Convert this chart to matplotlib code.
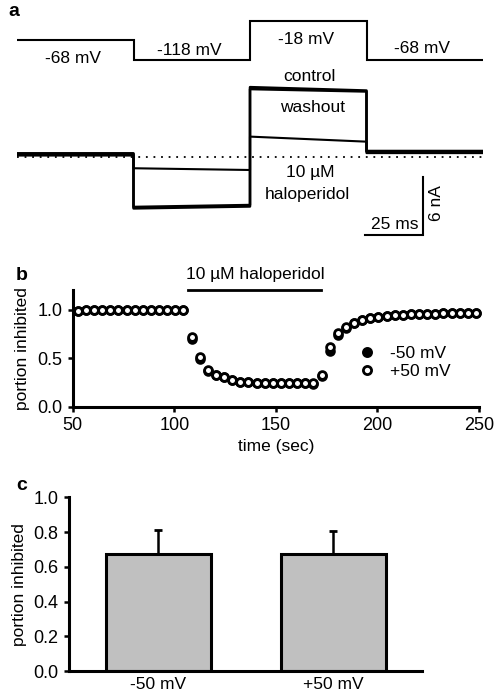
import matplotlib.pyplot as plt

plt.rcParams["font.family"] = ["Liberation Sans", "DejaVu Sans"]

W, H = 495, 695

# panel a: voltage protocol (ms, mV) and current levels (nA) at start / end of each step
step_edges = [0, 50, 100, 150, 200]
command_mv = [-68, -118, -18, -118]
command_labels = ["-68 mV", "-118 mV", "-18 mV", "-68 mV"]
control_start = [0.38, -5.15, 7.20, 0.62]
control_end = [0.38, -4.95, 6.85, 0.62]
washout_start = [0.30, -5.30, 7.00, 0.55]
washout_end = [0.30, -5.10, 6.75, 0.55]
halo_start = [0.15, -1.16, 2.10, 0.40]
halo_end = [0.15, -1.34, 1.58, 0.40]

# panel b: time course of block
time_sec = [52.5, 56.5, 60.5, 64.5, 68.5, 72.5, 76.5, 80.5, 84.5, 88.5,
            92.5, 96.5, 100.5, 104.5, 108.5, 112.5, 116.5, 120.5, 124.5, 128.5,
            132.5, 136.5, 140.5, 144.5, 148.5, 152.5, 156.5, 160.5, 164.5, 168.5,
            172.5, 176.5, 180.5, 184.5, 188.5, 192.5, 196.5, 200.5, 204.5, 208.5,
            212.5, 216.5, 220.5, 224.5, 228.5, 232.5, 236.5, 240.5, 244.5, 248.5]
plus50 = [0.98, 0.99, 0.99, 0.99, 0.99, 0.99, 0.99, 0.99, 0.99, 0.99,
          0.99, 0.99, 0.99, 0.99, 0.72, 0.51, 0.38, 0.33, 0.31, 0.28,
          0.26, 0.26, 0.25, 0.25, 0.245, 0.245, 0.25, 0.245, 0.245, 0.245,
          0.33, 0.62, 0.76, 0.82, 0.86, 0.89, 0.91, 0.92, 0.93, 0.94,
          0.94, 0.95, 0.95, 0.95, 0.95, 0.96, 0.96, 0.96, 0.96, 0.96]
minus50 = [0.98, 0.99, 0.99, 0.99, 0.99, 0.99, 0.99, 0.99, 0.99, 0.99,
           0.99, 0.99, 0.99, 0.99, 0.70, 0.49, 0.37, 0.33, 0.31, 0.28,
           0.26, 0.26, 0.25, 0.25, 0.245, 0.245, 0.25, 0.245, 0.245, 0.24,
           0.32, 0.57, 0.74, 0.81, 0.86, 0.89, 0.91, 0.92, 0.93, 0.94,
           0.94, 0.95, 0.95, 0.95, 0.95, 0.96, 0.96, 0.96, 0.96, 0.96]
drug_on, drug_off = 107, 172.3

# panel c: mean block with SEM
bar_labels = ["-50 mV", "+50 mV"]
bar_means = [0.672, 0.672]
bar_sem = [0.138, 0.134]

FS = 12.5
TICK_FS = 13


def px_axes(fig, left, top, right, bottom):
    return fig.add_axes([left / W, 1 - bottom / H, (right - left) / W, (bottom - top) / H])


def steps(edges, starts, ends):
    xs, ys = [], []
    for i in range(len(starts)):
        xs += [edges[i], edges[i + 1]]
        ys += [starts[i], ends[i]]
    return xs, ys


fig = plt.figure(figsize=(W / 100, H / 100), dpi=100)

# ---- panel a: command voltage
axv = px_axes(fig, 17, 5, 483, 75)
vx, vy = steps(step_edges, command_mv, command_mv)
axv.plot(vx, vy, color="black", lw=1.5, solid_joinstyle="miter")
axv.set_xlim(0, 200)
axv.set_ylim(-156.5, 23)
axv.axis("off")
label_y = [-113.6, -92.4, -64.9, -89.8]
for i, lab in enumerate(command_labels):
    xc = (step_edges[i] + step_edges[i + 1]) / 2 - 1
    axv.text(xc, label_y[i], lab, ha="center", va="center", fontsize=FS)

# ---- panel a: currents
axi = px_axes(fig, 17, 75, 483, 245)
axi.axhline(0, color="black", lw=1.3, ls=(0, (1, 3.2)))
for st, en, lw in [(control_start, control_end, 1.8),
                   (washout_start, washout_end, 1.8),
                   (halo_start, halo_end, 1.5)]:
    x, y = steps(step_edges, st, en)
    axi.plot(x, y, color="black", lw=lw)
axi.set_xlim(0, 200)
axi.set_ylim(-9.07, 8.45)
axi.axis("off")
axi.text(125.3, 8.25, "control", ha="center", va="center", fontsize=FS)
axi.text(127, 5.15, "washout", ha="center", va="center", fontsize=FS)
axi.text(125.8, -1.55, "10 µM", ha="center", va="center", fontsize=FS)
axi.text(124.8, -3.9, "haloperidol", ha="center", va="center", fontsize=FS)
# scale bar: 25 ms x 6 nA
sb_x, sb_y = 174.4, -8.04
axi.plot([sb_x - 25, sb_x, sb_x], [sb_y, sb_y, sb_y + 6], color="black", lw=1.5,
         clip_on=False, solid_joinstyle="miter")
axi.text(sb_x - 12.3, sb_y + 1.05, "25 ms", ha="center", va="center", fontsize=FS)
axi.text(sb_x + 5.8, sb_y + 3.3, "6 nA", ha="center", va="center", fontsize=FS, rotation=90)


def style_axes(ax):
    for s in ["top", "right"]:
        ax.spines[s].set_visible(False)
    for s in ["left", "bottom"]:
        ax.spines[s].set_linewidth(2.2)
    ax.tick_params(direction="out", length=3.5, width=1.8, labelsize=TICK_FS, pad=4)


# ---- panel b
axb = px_axes(fig, 72.7, 290, 479, 407)
style_axes(axb)
mk = dict(ls="none", marker="o", ms=5.6, mew=2.0, mec="black")
axb.plot(time_sec, minus50, mfc="black", clip_on=False, label="-50 mV", **mk)
axb.plot(time_sec, plus50, mfc="white", clip_on=False, label="+50 mV", **mk)
axb.set_xlim(50, 250)
axb.set_ylim(0, 1.2)
axb.set_xticks([50, 100, 150, 200, 250])
axb.set_yticks([0.0, 0.5, 1.0])
axb.set_yticklabels(["0.0", "0.5", "1.0"])
axb.set_xlabel("time (sec)", fontsize=FS, labelpad=3)
axb.set_ylabel("portion inhibited", fontsize=FS, labelpad=5)
axb.plot([drug_on, drug_off], [1.2, 1.2], color="black", lw=2, clip_on=False)
axb.text((drug_on + drug_off) / 2, 1.36, "10 µM haloperidol", ha="center", va="center",
         fontsize=FS)
axb.legend(loc="center left", bbox_to_anchor=(0.665, 0.38), frameon=False, fontsize=FS,
           handlelength=1.0, handletextpad=0.8, labelspacing=0.15, numpoints=1,
           markerscale=1.05)

# ---- panel c
axc = px_axes(fig, 69, 497.3, 422, 671)
style_axes(axc)
pos = list(range(len(bar_means)))
axc.bar(pos, bar_means, width=0.6, color="#c0c0c0", edgecolor="black", linewidth=2.2,
        zorder=2)
axc.errorbar(pos, bar_means, yerr=[[0] * len(bar_sem), bar_sem], fmt="none",
             ecolor="black", elinewidth=1.8, capsize=3, capthick=2.0, zorder=1)
axc.set_xlim(-0.511, 1.506)
axc.set_ylim(0, 1.0)
axc.set_yticks([0.0, 0.2, 0.4, 0.6, 0.8, 1.0])
axc.set_yticklabels(["0.0", "0.2", "0.4", "0.6", "0.8", "1.0"])
axc.set_xticks(pos)
axc.set_xticklabels(bar_labels, fontsize=FS)
axc.tick_params(axis="x", length=0, pad=4)
axc.set_ylabel("portion inhibited", fontsize=FS, labelpad=5)

for lab, (x, y) in zip("abc", [(14, 12), (22, 275), (22, 485)]):
    fig.text(x / W, 1 - y / H, lab, fontsize=14, fontweight="bold", ha="center", va="center")

fig.savefig("out.png", dpi=100)
